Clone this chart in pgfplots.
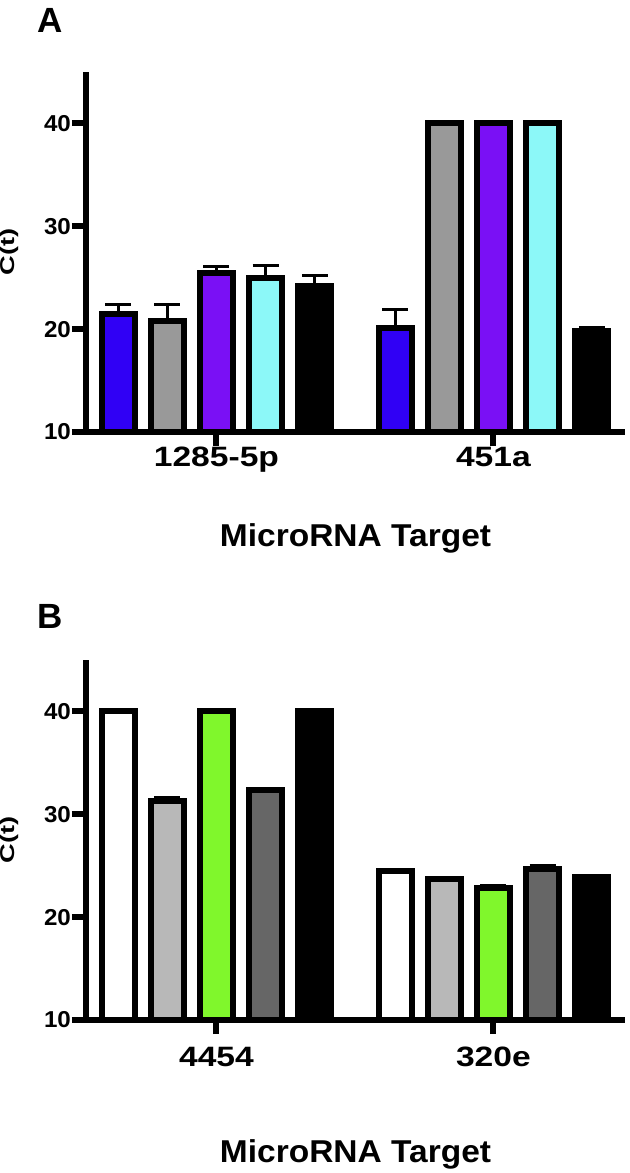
\documentclass[border=0pt]{standalone}
\usepackage{fontspec}
\setmainfont{Liberation Sans}
\newfontfamily\ftick[FakeStretch=1.05]{Liberation Sans}
\newfontfamily\fcat[FakeStretch=1.2]{Liberation Sans}
\newfontfamily\fxlab[FakeStretch=1.06]{Liberation Sans}
\newfontfamily\fylab[FakeStretch=1.36]{Liberation Sans}
\usepackage{pgfplots}
\pgfplotsset{compat=1.18}

\definecolor{cblue}{RGB}{48,0,245}
\definecolor{cgray}{RGB}{153,153,153}
\definecolor{cpurple}{RGB}{122,16,245}
\definecolor{ccyan}{RGB}{140,248,248}
\definecolor{lgray}{RGB}{184,184,184}
\definecolor{cgreen}{RGB}{128,247,44}
\definecolor{dgray}{RGB}{102,102,102}

\pgfplotsset{
  panel/.style={
    scale only axis, width=269.5pt, height=180pt,
    xmin=-0.471, xmax=1.475, ymin=10, ymax=45,
    axis x line*=bottom, axis y line*=left,
    axis line style={line width=3pt, black},
    ytick={10,20,30,40}, xtick={0,1},
    tick align=outside, major tick length=7pt,
    tick style={line width=3pt, black},
    ybar=8.1pt, bar width=16.5pt,
    axis on top,
    /pgf/number format/assume math mode=true,
    yticklabel style={font=\ftick\bfseries\fontsize{11.5}{13}\selectfont, xshift=3pt},
    xticklabel style={font=\fcat\bfseries\fontsize{14}{15}\selectfont, anchor=base},
    xlabel={MicroRNA Target},
    xlabel style={font=\fxlab\bfseries\fontsize{15.8}{17}\selectfont, anchor=base},
    ylabel={C(t)},
    ylabel style={font=\fylab\bfseries\fontsize{10}{12}\selectfont, at={(axis description cs:-0.143,0.5)}, anchor=center},
  },
  cbar/.style={draw=black, line width=3pt, fill=#1,
    error bars/.cd, y dir=plus, y explicit,
    error bar style={line width=1.5pt, black},
    error mark options={rotate=90, line width=1.5pt, mark size=6.5pt, black}},
}

\begin{document}
\begin{tikzpicture}
\path[use as bounding box] (0,0) rectangle (315pt,-586.5pt);
\node[font=\bfseries\fontsize{17.5}{19}\selectfont] at (25pt,-10.25pt) {A};
\node[font=\bfseries\fontsize{17.5}{19}\selectfont] at (25pt,-308pt) {B};

\begin{axis}[panel, at={(43pt,-216pt)}, anchor=south west,
  xticklabels={1285-5p,451a},
  xticklabel style={yshift=-10pt},
  xlabel style={at={(axis description cs:0.5,-0.3167)}}]
\addplot[cbar=cblue] coordinates {(0,21.5) +- (0,0.9) (1,20.1) +- (0,1.8)};
\addplot[cbar=cgray] coordinates {(0,20.8) +- (0,1.6) (1,40) +- (0,0)};
\addplot[cbar=cpurple] coordinates {(0,25.45) +- (0,0.65) (1,40) +- (0,0)};
\addplot[cbar=ccyan] coordinates {(0,25.0) +- (0,1.2) (1,40) +- (0,0)};
\addplot[cbar=black] coordinates {(0,24.2) +- (0,1.0) (1,19.85) +- (0,0.35)};
\end{axis}

\begin{axis}[panel, at={(43pt,-510pt)}, anchor=south west,
  xticklabels={4454,320e},
  xticklabel style={yshift=-16.3pt},
  xlabel style={at={(axis description cs:0.5,-0.397)}}]
\addplot[cbar=white] coordinates {(0,40) +- (0,0) (1,24.5) +- (0,0.15)};
\addplot[cbar=lgray] coordinates {(0,31.25) +- (0,0.35) (1,23.75) +- (0,0.1)};
\addplot[cbar=cgreen] coordinates {(0,40) +- (0,0) (1,22.8) +- (0,0.25)};
\addplot[cbar=dgray] coordinates {(0,32.4) +- (0,0.1) (1,24.7) +- (0,0.35)};
\addplot[cbar=black] coordinates {(0,40) +- (0,0) (1,23.9) +- (0,0.1)};
\end{axis}
\end{tikzpicture}
\end{document}
